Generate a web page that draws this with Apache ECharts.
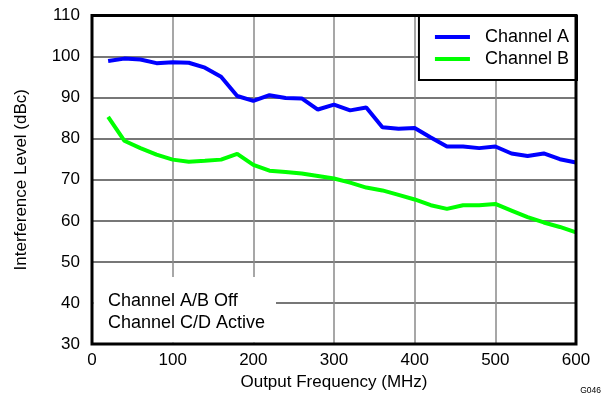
<!DOCTYPE html>
<html>
<head>
<meta charset="utf-8">
<script src="https://cdn.jsdelivr.net/npm/echarts@6/dist/echarts.min.js"></script>
<style>html,body{margin:0;padding:0;background:#fff}#c{width:605px;height:400px}</style>
</head>
<body>
<div id="c"></div>
<script>
const frequencies = [20,40,60,80,100,120,140,160,180,200,220,240,260,280,300,320,340,360,380,400,420,440,460,480,500,520,540,560,580,600];
const channelA = [98.9,99.5,99.3,98.4,98.6,98.5,97.3,95.1,90.4,89.2,90.6,89.9,89.8,87.1,88.3,86.9,87.6,82.8,82.4,82.6,80.3,78.1,78.1,77.7,78.1,76.4,75.8,76.4,75.0,74.2];
const channelB = [85.3,79.5,77.7,76.1,74.9,74.4,74.6,74.9,76.3,73.6,72.2,71.9,71.5,70.9,70.3,69.3,68.1,67.4,66.3,65.2,63.8,62.9,63.8,63.8,64.1,62.5,60.9,59.6,58.5,57.2];
const seriesNames = ['Channel A','Channel B'];
const xTicks = {min:0,max:600,interval:100};
const yTicks = {min:30,max:110,interval:10};
const annotation = ['Channel A/B Off','Channel C/D Active'];
const figId = 'G046';

const font = '"Liberation Sans", Arial, sans-serif';
const pair = (xs, ys) => xs.map((x,i)=>[x, ys[i]]);

const chart = echarts.init(document.getElementById('c'), null, {renderer:'canvas'});
chart.setOption({
  animation:false,
  backgroundColor:'#fff',
  textStyle:{fontFamily:font,color:'#000'},
  grid:{left:92,right:29,top:15.5,bottom:56,show:true,borderColor:'#000',borderWidth:3,backgroundColor:'transparent',z:10},
  xAxis:{type:'value',min:xTicks.min,max:xTicks.max,interval:xTicks.interval,
    name:'Output Frequency (MHz)',nameLocation:'middle',nameGap:29,
    nameTextStyle:{fontSize:17,fontFamily:font,color:'#000'},
    axisLine:{show:false},axisTick:{show:false},
    axisLabel:{fontSize:17,fontFamily:font,color:'#000',margin:8},
    splitLine:{show:true,showMinLine:false,showMaxLine:false,lineStyle:{color:'#8a8a8a',width:1.5}}},
  yAxis:{type:'value',min:yTicks.min,max:yTicks.max,interval:yTicks.interval,
    name:'Interference Level (dBc)',nameLocation:'middle',nameGap:62,
    nameTextStyle:{fontSize:17,fontFamily:font,color:'#000'},
    axisLine:{show:false},axisTick:{show:false},
    axisLabel:{fontSize:17,fontFamily:font,color:'#000',margin:12},
    splitLine:{show:true,showMinLine:false,showMaxLine:false,lineStyle:{color:'#4a4a4a',width:1.5}}},
  legend:{orient:'vertical',right:28,top:16,data:seriesNames,
    backgroundColor:'#fff',borderColor:'#000',borderWidth:2,
    padding:[12,8,12,16],icon:'rect',itemWidth:35,itemHeight:4,itemGap:4,
    textStyle:{fontSize:18,lineHeight:18,fontFamily:font,color:'#000',padding:[0,0,0,10]}},
  graphic:[
    {type:'rect',z:5,shape:{x:93.5,y:277,width:182.5,height:65.5},style:{fill:'#fff'}},
    {type:'text',z:6,left:108,top:290,style:{text:annotation.join('\n'),font:'18px '+font,lineHeight:22,fill:'#000'}},
    {type:'text',z:6,right:4,top:386,style:{text:figId,font:'8.5px '+font,fill:'#000'}}
  ],
  series:[
    {name:seriesNames[0],type:'line',data:pair(frequencies,channelA),showSymbol:false,symbol:'none',
      lineStyle:{color:'#0000ff',width:4},itemStyle:{color:'#0000ff'},z:3},
    {name:seriesNames[1],type:'line',data:pair(frequencies,channelB),showSymbol:false,symbol:'none',
      lineStyle:{color:'#00ff00',width:4},itemStyle:{color:'#00ff00'},z:3}
  ]
});
</script>
</body>
</html>
